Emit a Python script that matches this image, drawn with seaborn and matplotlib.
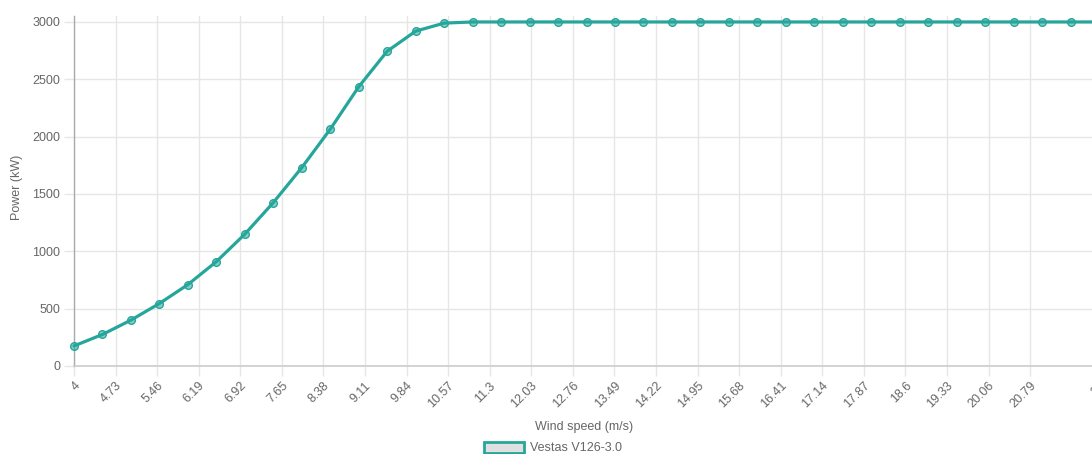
import numpy as np
import matplotlib
matplotlib.use('Agg')
import matplotlib.pyplot as plt
from matplotlib.patches import Patch
import pandas as pd
import seaborn as sns

# Power curve
wind_speed = [4, 4.5, 5, 5.5, 6, 6.5, 7, 7.5, 8, 8.5, 9, 9.5, 10, 10.5,
              11, 11.5, 12, 12.5, 13, 13.5, 14, 14.5, 15, 15.5, 16, 16.5,
              17, 17.5, 18, 18.5, 19, 19.5, 20, 20.5, 21, 21.5, 22]
power_kw = [175, 275, 400, 545, 710, 910, 1150, 1425, 1730, 2065, 2435, 2745,
            2920, 2990, 3000, 3000, 3000, 3000, 3000, 3000, 3000, 3000, 3000,
            3000, 3000, 3000, 3000, 3000, 3000, 3000, 3000, 3000, 3000, 3000,
            3000, 3000, 3000]
x_tick_labels = ['4', '4.73', '5.46', '6.19', '6.92', '7.65', '8.38', '9.11',
                 '9.84', '10.57', '11.3', '12.03', '12.76', '13.49', '14.22',
                 '14.95', '15.68', '16.41', '17.14', '17.87', '18.6', '19.33',
                 '20.06', '20.79', '22']
y_ticks = [0, 500, 1000, 1500, 2000, 2500, 3000]
series_name = 'Vestas V126-3.0'

df = pd.DataFrame({'wind': wind_speed, 'power': power_kw})

sns.set_style('white')
plt.rcParams['font.family'] = ['Liberation Sans', 'DejaVu Sans']

teal = '#26a69a'
grid_c = '#e6e6e6'
text_c = '#666666'

W, H = 1092, 454
fig = plt.figure(figsize=(W / 100, H / 100), dpi=100)
# chart area runs off the right edge, like the cropped reference
left, right, top, bottom = 74, 1099, 16, 366
ax = fig.add_axes([left / W, (H - bottom) / H, (right - left) / W, (bottom - top) / H])

sns.lineplot(data=df, x='wind', y='power', ax=ax, color=teal, linewidth=2.3,
             marker='o', markersize=5.5, markerfacecolor=(38/255, 166/255, 154/255, 0.55),
             markeredgecolor=teal, markeredgewidth=1.0, clip_on=False, zorder=3)

ax.set_xlim(4, 22)
ax.set_ylim(0, 3052)

ax.set_xticks([float(t) for t in x_tick_labels])
ax.set_xticklabels(x_tick_labels, rotation=45, ha='right', rotation_mode='anchor')
ax.set_yticks(y_ticks)
ax.set_yticklabels([str(v) for v in y_ticks])

ax.grid(True, color=grid_c, linewidth=1)
ax.set_axisbelow(True)
ax.tick_params(axis='both', colors=grid_c, labelcolor=text_c, labelsize=9,
               length=7, width=1, pad=3, bottom=True, left=True)

for s in ['top', 'right']:
    ax.spines[s].set_visible(False)
ax.spines['left'].set_color('#aaaaaa')
ax.spines['bottom'].set_color('#cccccc')
ax.spines['left'].set_linewidth(1)
ax.spines['bottom'].set_linewidth(1.2)

ax.set_xlabel('')
ax.set_ylabel('')
fig.text(584 / W, 1 - 427 / H, 'Wind speed (m/s)', ha='center', va='center',
         color=text_c, fontsize=9)
fig.text(17 / W, 1 - 187 / H, 'Power (kW)', ha='center', va='center',
         rotation=90, color=text_c, fontsize=9)

handle = Patch(facecolor='#e0e0e0', edgecolor=teal, linewidth=2)
fig.legend([handle], [series_name], loc='center', bbox_to_anchor=(553 / W, 1 - 448 / H),
           frameon=False, fontsize=9, labelcolor=text_c, handlelength=3.2,
           handleheight=1.0, handletextpad=0.5, borderpad=0)

fig.savefig('out.png', dpi=100)
